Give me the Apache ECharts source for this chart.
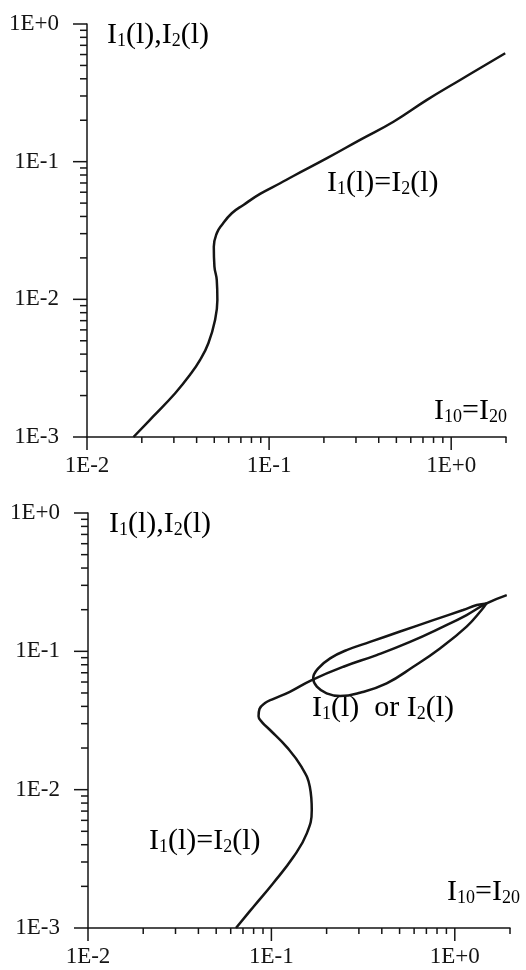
<!DOCTYPE html>
<html>
<head>
<meta charset="utf-8">
<title>I1(l), I2(l)</title>
<script src="https://cdn.jsdelivr.net/npm/echarts@6/dist/echarts.min.js"></script>
<style>
    html, body { margin: 0; padding: 0; background: #fff; }
    #chart { width: 526px; height: 970px; }
</style>
</head>
<body>
<div id="chart"></div>
<script>
    // axis ticks (both panels share them)
    var decadesX = [0.01, 0.1, 1];
    var decadesY = [0.001, 0.01, 0.1, 1];
    var minorX = [0.02, 0.03, 0.04, 0.05, 0.06, 0.07, 0.08, 0.09,
                  0.2, 0.3, 0.4, 0.5, 0.6, 0.7, 0.8, 0.9, 2];
    var minorY = [0.002, 0.003, 0.004, 0.005, 0.006, 0.007, 0.008, 0.009,
                  0.02, 0.03, 0.04, 0.05, 0.06, 0.07, 0.08, 0.09,
                  0.2, 0.3, 0.4, 0.5, 0.6, 0.7, 0.8, 0.9];

    // upper panel: I1(l)=I2(l)
    var topX = [0.0180, 0.0231, 0.0305, 0.0368, 0.0418, 0.0464, 0.0505, 0.0520, 0.0516, 0.0501,
                0.0497, 0.0516, 0.0550, 0.0624, 0.0723, 0.0892, 0.115, 0.136, 0.208, 0.316,
                0.482, 0.736, 1.12, 1.98];
    var topY = [0.00100, 0.00141, 0.00208, 0.00283, 0.00363, 0.00480, 0.00709, 0.00990, 0.0138, 0.0173,
                0.0241, 0.0302, 0.0347, 0.0422, 0.0485, 0.0583, 0.0697, 0.0787, 0.106, 0.144,
                0.195, 0.281, 0.392, 0.613];

    // lower panel: symmetric branch (S curve, then the chord through the loop, then the tail)
    var symX = [0.0641, 0.0797, 0.102, 0.132, 0.156, 0.166, 0.162, 0.146, 0.121, 0.0983,
                0.0888, 0.0851, 0.0861, 0.0923, 0.102, 0.126, 0.166,
                0.247, 0.375, 0.570, 0.866, 1.16, 1.49, 1.92];
    var symY = [0.00100, 0.00142, 0.00210, 0.00327, 0.00483, 0.00712, 0.0105, 0.0146, 0.0204, 0.0270,
                0.0308, 0.0340, 0.0383, 0.0423, 0.0452, 0.0510, 0.0620,
                0.0774, 0.0940, 0.117, 0.151, 0.183, 0.222, 0.255];
    // lower panel: I1(l) or I2(l) loop, tip -> lower arc -> junction -> upper arc -> tip
    var loopX = [1.49, 1.40, 1.16, 0.830, 0.594, 0.425, 0.304, 0.237, 0.200, 0.177, 0.169,
                 0.180, 0.209, 0.257, 0.345, 0.503, 0.763, 1.11, 1.32, 1.49];
    var loopY = [0.222, 0.199, 0.151, 0.105, 0.0774, 0.0587, 0.0502, 0.0475, 0.0497, 0.0555, 0.0638,
                 0.0753, 0.0890, 0.102, 0.117, 0.139, 0.168, 0.199, 0.216, 0.222];

    var serif = '"Liberation Serif", "Times New Roman", serif';
    var ink = '#151515';

    function zip(xs, ys) {
        return xs.map(function (x, i) { return [x, ys[i]]; });
    }

    function decadeLabel(v) {
        var l = Math.log10(v);
        var e = Math.round(l);
        if (Math.abs(l - e) > 1e-6) return '';
        return '1E' + (e >= 0 ? '+' : '-') + Math.abs(e);
    }

    // kind: 0 y major, 1 y minor, 2 x major, 3 x minor
    function tickData() {
        var d = [];
        decadesY.forEach(function (v) { d.push([0.01, v, 0]); });
        minorY.forEach(function (v) { d.push([0.01, v, 1]); });
        decadesX.forEach(function (v) { d.push([v, 0.001, 2]); });
        minorX.forEach(function (v) { d.push([v, 0.001, 3]); });
        return d;
    }

    function tickSeries(idx) {
        return {
            type: 'custom',
            xAxisIndex: idx,
            yAxisIndex: idx,
            silent: true,
            clip: false,
            data: tickData(),
            renderItem: function (params, api) {
                var p = api.coord([api.value(0), api.value(1)]);
                var kind = api.value(2);
                var len = [14, 7, 13, 6][kind];
                var shape = kind < 2
                    ? { x1: p[0], y1: p[1], x2: p[0] - len, y2: p[1] }
                    : { x1: p[0], y1: p[1], x2: p[0], y2: p[1] + len };
                return { type: 'line', shape: shape, style: { stroke: ink, lineWidth: 1.5 } };
            }
        };
    }

    function curve(idx, data) {
        return {
            type: 'line',
            xAxisIndex: idx,
            yAxisIndex: idx,
            data: data,
            smooth: 0.45,
            showSymbol: false,
            symbol: 'none',
            clip: false,
            lineStyle: { color: ink, width: 2.5 }
        };
    }

    function axisX(idx) {
        return {
            gridIndex: idx, type: 'log', logBase: 10, min: 0.01, max: 2,
            axisLine: { lineStyle: { color: ink, width: 1.5 } },
            axisTick: { show: false },
            splitLine: { show: false },
            axisLabel: { formatter: decadeLabel, margin: 17, fontFamily: serif, fontSize: 23, color: ink }
        };
    }

    function axisY(idx) {
        return {
            gridIndex: idx, type: 'log', logBase: 10, min: 0.001, max: 1,
            axisLine: { lineStyle: { color: ink, width: 1.5 } },
            axisTick: { show: false },
            splitLine: { show: false },
            axisLabel: { formatter: decadeLabel, margin: 28, fontFamily: serif, fontSize: 23, color: ink }
        };
    }

    var rich = {
        m: { fontFamily: serif, fontSize: 30, lineHeight: 33, color: ink, verticalAlign: 'bottom' },
        s: { fontFamily: serif, fontSize: 18, lineHeight: 12, color: ink, verticalAlign: 'bottom' }
    };

    function label(text, left, top) {
        return { type: 'text', left: left, top: top, silent: true, style: { text: text, rich: rich } };
    }

    var chart = echarts.init(document.getElementById('chart'));
    chart.setOption({
        animation: false,
        grid: [
            { left: 87, top: 24, width: 419, height: 413 },
            { left: 88, top: 513, width: 422, height: 415 }
        ],
        xAxis: [axisX(0), axisX(1)],
        yAxis: [axisY(0), axisY(1)],
        series: [
            tickSeries(0),
            tickSeries(1),
            curve(0, zip(topX, topY)),
            curve(1, zip(symX, symY)),
            curve(1, zip(loopX, loopY))
        ],
        graphic: [
            label('{m|I}{s|1}{m|(l),I}{s|2}{m|(l)}', 107, 20),
            label('{m|I}{s|1}{m|(l)=I}{s|2}{m|(l)}', 327, 168),
            label('{m|I}{s|10}{m|=I}{s|20}', 434, 396),
            label('{m|I}{s|1}{m|(l),I}{s|2}{m|(l)}', 109, 509),
            label('{m|I}{s|1}{m|(l)  or I}{s|2}{m|(l)}', 312, 693),
            label('{m|I}{s|1}{m|(l)=I}{s|2}{m|(l)}', 149, 826),
            label('{m|I}{s|10}{m|=I}{s|20}', 447, 877)
        ]
    });
</script>
</body>
</html>
